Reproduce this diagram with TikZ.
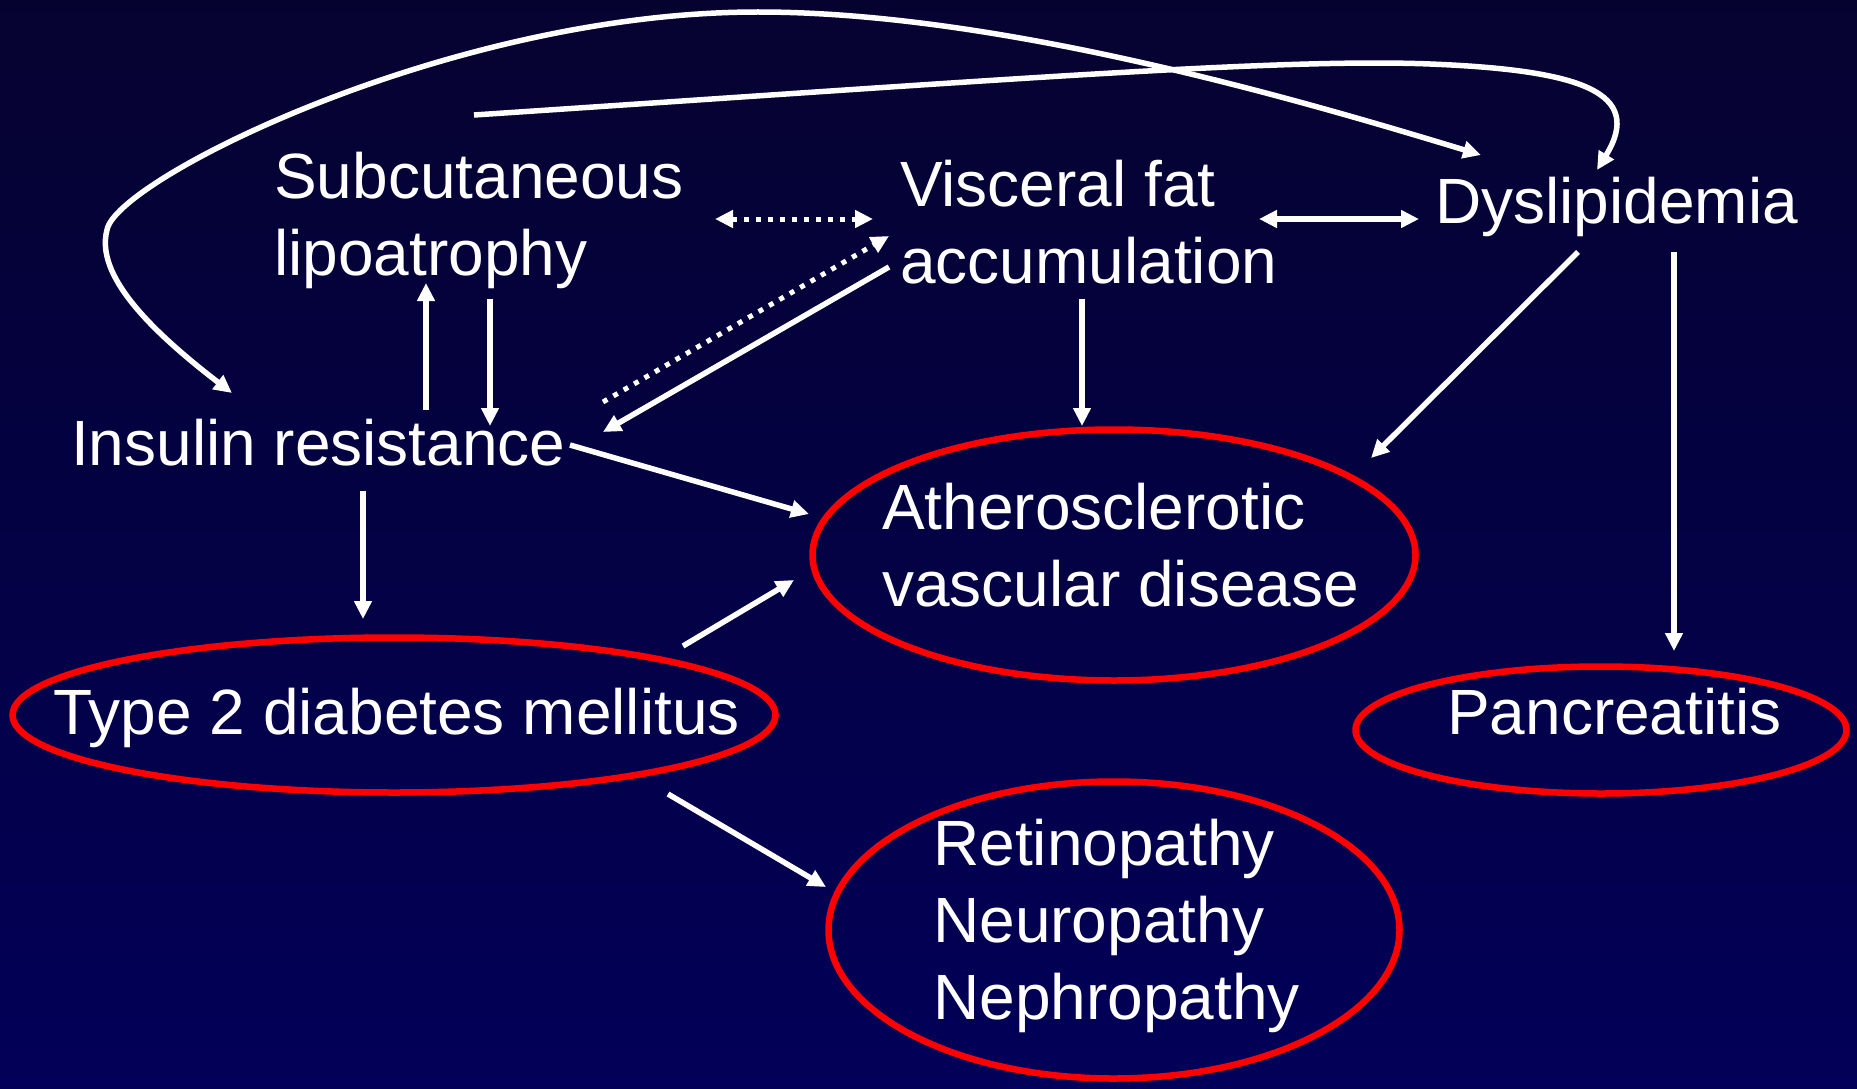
\documentclass[tikz,border=0pt]{standalone}
\usepackage{fontspec}
\setmainfont{Liberation Sans}
\usetikzlibrary{arrows.meta,shapes.geometric}
\definecolor{bgtop}{RGB}{6,2,48}
\definecolor{bgbot}{RGB}{2,0,88}
\begin{document}
\begin{tikzpicture}[x=1pt,y=-1pt,
  lbl/.style={text=white, font=\fontsize{64}{77}\selectfont, inner sep=0pt, anchor=base west, align=left},
  oval/.style={ellipse, draw=red, line width=6.5pt, inner sep=0pt},
  conn/.style={draw=white, line width=5.5pt, -{Triangle[length=18pt,width=17pt]}},
  dconn/.style={conn, line width=5pt, dash pattern=on 5pt off 7pt},
]
\useasboundingbox (0,0) rectangle (1857,1089);
\shade[top color=bgtop, bottom color=bgbot] (0,0) rectangle (1857,1089);

% ovals
\node[oval, minimum width=603pt, minimum height=251pt] (atheroE) at (1114,555) {};
\node[oval, minimum width=763pt, minimum height=155pt] (t2dmE) at (394,715) {};
\node[oval, minimum width=491pt, minimum height=127pt] (pancE) at (1601,730) {};
\node[oval, minimum width=571pt, minimum height=297pt] (compE) at (1114,930) {};

% labels (anchor = baseline of the last line)
\node[lbl] (sub) at (274,275) {Subcutaneous\\lipoatrophy};
\node[lbl] (visc) at (900,283) {Visceral fat\\accumulation};
\node[lbl] (dys) at (1435,223) {Dyslipidemia};
\node[lbl] (ir) at (71,465) {Insulin resistance};
\node[lbl] (ath) at (882,606) {Atherosclerotic\\vascular disease};
\node[lbl] (t2) at (53,734) {Type 2 diabetes mellitus};
\node[lbl] (panc) at (1447,734) {Pancreatitis};
\node[lbl] (comp) at (933,1019) {Retinopathy\\Neuropathy\\Nephropathy};

% connector end points
\coordinate (subR) at (715,219);
\coordinate (viscL) at (873,219);
\coordinate (irDot) at (603,402);
\coordinate (viscDot) at (889,236);
\coordinate (viscSw) at (889,267);
\coordinate (irNE) at (603,432);
\coordinate (irUp) at (426,410);
\coordinate (subBot) at (426,283);
\coordinate (subDn) at (490,299);
\coordinate (irTop) at (490,426);
\coordinate (viscBot) at (1082,299);
\coordinate (athTop) at (1082,426);
\coordinate (irR) at (570,445);
\coordinate (athW) at (809,514);
\coordinate (irBot) at (363,491);
\coordinate (t2Top) at (363,619);
\coordinate (t2NE) at (683,646);
\coordinate (athSW) at (794,580);
\coordinate (t2SE) at (668,794);
\coordinate (compNW) at (826,887);
\coordinate (viscR) at (1259,219);
\coordinate (dysL) at (1419,219);
\coordinate (dysSW) at (1578,252);
\coordinate (athNE) at (1371,458);
\coordinate (dysS) at (1674,252);
\coordinate (pancTop) at (1674,651);
\coordinate (irNW) at (232,393);
\coordinate (dysNW) at (1481,155);
\coordinate (subTop) at (474,115);
\coordinate (dysTop) at (1597,170);

% connectors
\draw[dconn, {Triangle[length=18pt,width=17pt]}-{Triangle[length=18pt,width=17pt]}] (subR) -- (viscL);
\draw[dconn] (irDot) -- (viscDot);
\draw[conn] (viscSw) -- (irNE);
\draw[conn] (irUp) -- (subBot);
\draw[conn] (subDn) -- (irTop);
\draw[conn] (viscBot) -- (athTop);
\draw[conn] (irR) -- (athW);
\draw[conn] (irBot) -- (t2Top);
\draw[conn] (t2NE) -- (athSW);
\draw[conn] (t2SE) -- (compNW);
\draw[conn, {Triangle[length=18pt,width=17pt]}-{Triangle[length=18pt,width=17pt]}] (viscR) -- (dysL);
\draw[conn] (dysSW) -- (athNE);
\draw[conn] (dysS) -- (pancTop);
\draw[conn, {Triangle[length=18pt,width=17pt]}-{Triangle[length=18pt,width=17pt]}]
  (irNW) .. controls (150,330) and (95,275) .. (107,230)
  .. controls (115,180) and (450,12) .. (758,12)
  .. controls (1000,12) and (1300,100) .. (dysNW);
\draw[conn]
  (subTop) .. controls (1000,80) and (1280,58) .. (1430,64)
  .. controls (1580,70) and (1645,92) .. (dysTop);
\end{tikzpicture}
\end{document}
